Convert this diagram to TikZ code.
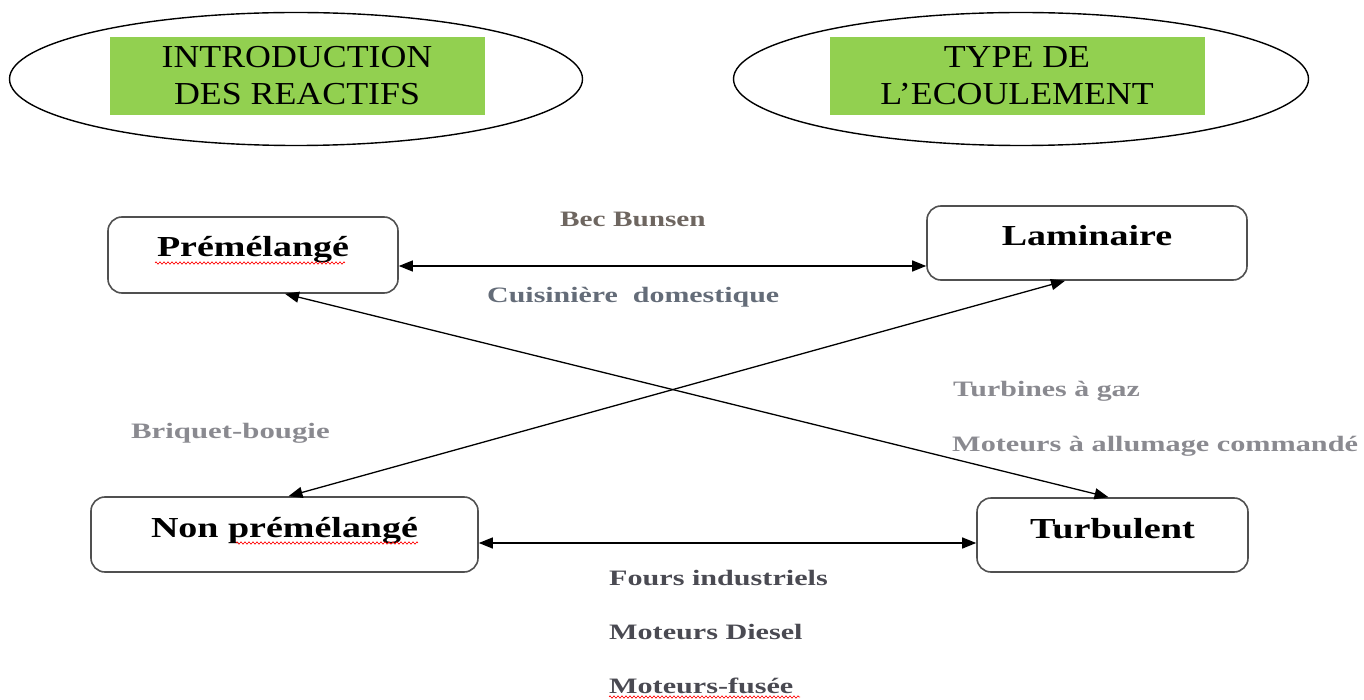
\documentclass[tikz,border=0pt]{standalone}
\usepackage{fontspec}
\usepackage{graphicx}
\setmainfont{Liberation Serif}
\usetikzlibrary{arrows.meta,shapes.geometric,decorations.pathmorphing}
\definecolor{titlegreen}{HTML}{92D050}
\definecolor{boxline}{HTML}{505050}
\definecolor{labA}{HTML}{6E6660}
\definecolor{labB}{HTML}{646C78}
\definecolor{labC}{HTML}{8A8A90}
\definecolor{labD}{HTML}{4A4A52}
\newcommand{\sxx}[2]{\scalebox{#1}[1]{#2}}
\tikzset{
  oval/.style={ellipse, draw=black, line width=1.4pt, minimum width=573pt, minimum height=133pt, inner sep=0pt},
  titlebox/.style={fill=titlegreen, minimum width=375pt, minimum height=78pt, inner sep=0pt, align=center,
    font=\fontsize{32}{37}\selectfont},
  flowbox/.style={draw=boxline, line width=1.6pt, rounded corners=14pt, inner sep=0pt,
    text height=40pt, font=\fontsize{29}{34}\selectfont\bfseries},
  lab/.style={anchor=base west, inner sep=0pt, font=\fontsize{22}{26}\selectfont\bfseries},
  link/.style={line width=1.3pt, {Triangle[length=14pt,width=11pt]}-{Triangle[length=14pt,width=11pt]}},
  squig/.style={red, line width=0.6pt, decorate, decoration={zigzag, segment length=4pt, amplitude=1.2pt}}
}
\begin{document}
\begin{tikzpicture}[x=1pt,y=-1pt]
\useasboundingbox (0,0) rectangle (1364,700);
% top ovals
\node[oval] (ovL) at (296,79) {};
\node[oval, minimum width=575pt] (ovR) at (1021,79) {};
\node[titlebox] (tL) at (297,76) {\sxx{1.12}{INTRODUCTION}\\\sxx{1.12}{DES REACTIFS}};
\node[titlebox] (tR) at (1017,76) {\sxx{1.12}{TYPE DE}\\\sxx{1.12}{L'ECOULEMENT}};
% boxes
\node[flowbox, minimum width=290pt, minimum height=76pt, text depth=36pt] (pre) at (253,255) {\sxx{1.31}{Prémélangé}};
\node[flowbox, minimum width=320pt, minimum height=74pt, text depth=34pt] (lam) at (1087,243) {\sxx{1.31}{Laminaire}};
\node[flowbox, minimum width=387pt, minimum height=75pt, text depth=35pt] (np) at (284.5,534.5) {\sxx{1.31}{Non prémélangé}};
\node[flowbox, minimum width=271pt, minimum height=74pt, text depth=34pt] (tur) at (1112.5,535) {\sxx{1.32}{Turbulent}};
% connectors
\draw[link] ([yshift=-11pt]pre.east) -- ([yshift=-11pt]pre.east -| lam.west);
\draw[link] ([yshift=-8.5pt]np.east) -- ([yshift=-8.5pt]np.east -| tur.west);
\draw[link] ([xshift=32pt]pre.south) -- ([xshift=-4pt]tur.north);
\draw[link] ([xshift=-22pt]lam.south) -- ([xshift=4pt]np.north);
% labels
\node[lab, text=labA] (l1) at (560,227) {\sxx{1.33}{Bec Bunsen}};
\node[lab, text=labB] (l2) at (487,303) {\sxx{1.36}{Cuisinière\ \ domestique}};
\node[lab, text=labC] (l3) at (131,438) {\sxx{1.4}{Briquet-bougie}};
\node[lab, text=labC] (l4) at (953,396) {\sxx{1.36}{Turbines à gaz}};
\node[lab, text=labC] (l5) at (952,451) {\sxx{1.375}{Moteurs à allumage commandé}};
\node[lab, text=labD] (l6) at (609,585) {\sxx{1.37}{Fours industriels}};
\node[lab, text=labD] (l7) at (609,639) {\sxx{1.37}{Moteurs Diesel}};
\node[lab, text=labD] (l8) at (609,693) {\sxx{1.37}{Moteurs-fusée}};
% spell-check squiggles
\draw[squig] (155,263) -- (345,263);
\draw[squig] (236,543) -- (418,543);
\draw[squig] (609,697) -- (800,697);
\end{tikzpicture}
\end{document}
